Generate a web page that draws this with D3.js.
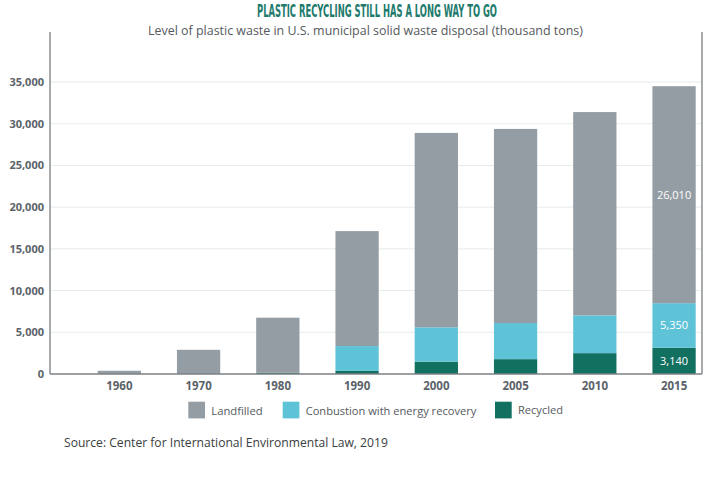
<!DOCTYPE html>
<html>
<head>
<meta charset="utf-8">
<script src="https://cdn.jsdelivr.net/npm/d3@7"></script>
<style>
  html, body { margin: 0; padding: 0; background: #fff; }
  svg { display: block; }
</style>
</head>
<body>
<svg id="chart" width="725" height="482"></svg>
<script>
// ---- data ----
const years = ["1960", "1970", "1980", "1990", "2000", "2005", "2010", "2015"];
const recycled = [0, 0, 150, 370, 1480, 1780, 2500, 3140];
const combustion = [0, 0, 0, 2980, 4120, 4330, 4530, 5350];
const landfilled = [390, 2900, 6600, 13780, 23300, 23270, 24370, 26010];
const yTicks = [0, 5000, 10000, 15000, 20000, 25000, 30000, 35000];
const seriesNames = ["Landfilled", "Conbustion with energy recovery", "Recycled"];
const labeledYear = "2015";

(function () {
const colors = { recycled: "#127061", combustion: "#5fc3d8", landfilled: "#949da4" };

const svg = d3.select("#chart");
const mLeft = 50, mRight = 702, mTop = 32, mBottom = 374;

const x = d3.scaleBand().domain(years).range([97.7, 695.7]).paddingInner(0.454).paddingOuter(0);
const y = d3.scaleLinear().domain([0, 41000]).range([mBottom, mTop]);

const rows = years.map((yr, i) => ({ year: yr, recycled: recycled[i], combustion: combustion[i], landfilled: landfilled[i] }));
const keys = ["recycled", "combustion", "landfilled"];
const stacked = d3.stack().keys(keys)(rows);

// gridlines
svg.append("g").selectAll("line").data(yTicks.filter(d => d > 0)).join("line")
  .attr("x1", mLeft).attr("x2", mRight)
  .attr("y1", d => y(d)).attr("y2", d => y(d))
  .attr("stroke", "#e6ebec").attr("stroke-width", 1);

// bars
svg.append("g").selectAll("g").data(stacked).join("g")
  .attr("fill", d => colors[d.key])
  .selectAll("rect").data(d => d).join("rect")
  .attr("x", d => x(d.data.year))
  .attr("width", x.bandwidth())
  .attr("y", d => y(d[1]))
  .attr("height", d => Math.max(0, y(d[0]) - y(d[1])));

// value labels
const fmt = d3.format(",");
stacked.forEach(s => {
  const d = s.find(p => p.data.year === labeledYear);
  svg.append("text")
    .attr("x", x(labeledYear) + x.bandwidth() / 2)
    .attr("y", (y(d[0]) + y(d[1])) / 2)
    .attr("dy", "0.36em")
    .attr("text-anchor", "middle")
    .attr("font-family", "'Open Sans', sans-serif")
    .attr("font-size", 11)
    .attr("fill", "#fff")
    .text(fmt(d.data[s.key]));
});

// y axis labels
const yAxis = d3.axisLeft(y).tickValues(yTicks).tickSize(0).tickPadding(6).tickFormat(d3.format(","));
const gy = svg.append("g").attr("transform", `translate(${mLeft},0)`).call(yAxis);
gy.select(".domain").remove();
gy.selectAll("text").attr("font-family", "'Open Sans', sans-serif").attr("font-size", 11)
  .attr("font-weight", "bold").attr("fill", "#5b6269");

// x axis labels
const xAxis = d3.axisBottom(x).tickSize(0).tickPadding(8);
const gx = svg.append("g").attr("transform", `translate(0,${mBottom})`).call(xAxis);
gx.select(".domain").remove();
gx.selectAll("text").attr("font-family", "'Open Sans', sans-serif").attr("font-size", 11.5)
  .attr("font-weight", "bold").attr("fill", "#5b6269");

// frame lines
svg.append("line").attr("x1", mLeft).attr("x2", mLeft).attr("y1", mTop).attr("y2", mBottom)
  .attr("stroke", "#6f7478").attr("stroke-width", 1.2);
svg.append("line").attr("x1", mRight).attr("x2", mRight).attr("y1", mTop).attr("y2", mBottom)
  .attr("stroke", "#6f7478").attr("stroke-width", 1.2);
svg.append("line").attr("x1", mLeft).attr("x2", mRight).attr("y1", mBottom).attr("y2", mBottom)
  .attr("stroke", "#7d8286").attr("stroke-width", 1.4);

// helper to fit text width by font-size
function fitText(sel, target) {
  const w = sel.node().getComputedTextLength();
  const fs = parseFloat(sel.attr("font-size"));
  if (w > 0) sel.attr("font-size", fs * target / w);
}

// title
svg.append("text")
  .attr("x", 377).attr("y", 16.7).attr("text-anchor", "middle")
  .attr("font-family", "'Liberation Sans Narrow', 'DejaVu Sans Condensed', sans-serif")
  .attr("font-weight", "bold").attr("font-size", 17.5)
  .attr("fill", "#217a6b")
  .attr("textLength", 240).attr("lengthAdjust", "spacingAndGlyphs")
  .text("PLASTIC RECYCLING STILL HAS A LONG WAY TO GO");

// subtitle
const sub = svg.append("text")
  .attr("x", 365.5).attr("y", 34.5).attr("text-anchor", "middle")
  .attr("font-family", "'Open Sans', sans-serif").attr("font-size", 12)
  .attr("fill", "#55595d")
  .text("Level of plastic waste in U.S. municipal solid waste disposal (thousand tons)");
fitText(sub, 435);

// legend
const legendItems = [
  { name: seriesNames[0], color: colors.landfilled, sx: 188.3, tw: 51.3 },
  { name: seriesNames[1], color: colors.combustion, sx: 282.7, tw: 170.7 },
  { name: seriesNames[2], color: colors.recycled, sx: 495, tw: 45 }
];
const lg = svg.append("g");
legendItems.forEach(it => {
  lg.append("rect").attr("x", it.sx).attr("y", 401.7).attr("width", 16.7).attr("height", 16.7).attr("fill", it.color);
  const t = lg.append("text").attr("x", it.sx + 23).attr("y", 410.5).attr("dy", "0.36em")
    .attr("font-family", "'Open Sans', sans-serif").attr("font-size", 12)
    .attr("fill", "#55595d").text(it.name);
  fitText(t, it.tw);
});

// source
const src = svg.append("text")
  .attr("x", 64).attr("y", 446.5)
  .attr("font-family", "'Open Sans', sans-serif").attr("font-size", 12.5)
  .attr("fill", "#3a3d40")
  .text("Source: Center for International Environmental Law, 2019");
fitText(src, 324);
})();
</script>
</body>
</html>
